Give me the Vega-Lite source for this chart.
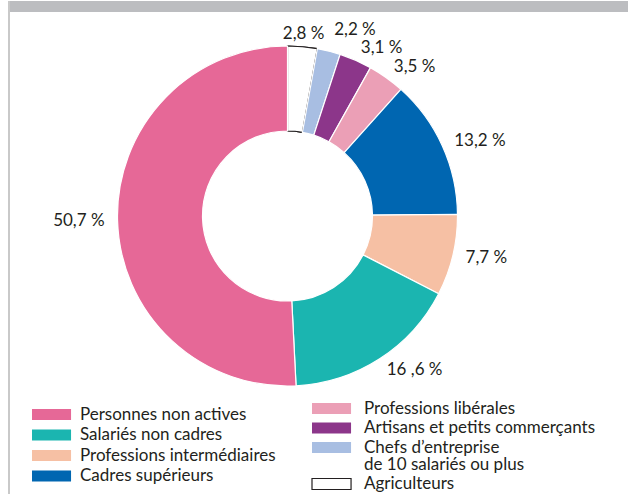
{
  "$schema": "https://vega.github.io/schema/vega-lite/v6.json",
  "padding": {"left": 8, "top": 0, "right": 0, "bottom": 0},
  "background": "white",
  "spacing": 0,
  "config": {"view": {"stroke": null}, "concat": {"spacing": 0}, "font": "Lato"},
  "hconcat": [
    {
      "width": 2, "height": 494,
      "view": {"fill": "#c9c9c9", "stroke": null},
      "data": {"values": [{}]},
      "mark": {"type": "text"},
      "encoding": {"text": {"value": ""}}
    },
    {
      "spacing": 0,
      "vconcat": [
        {
          "width": 618, "height": 11,
          "view": {"fill": "#bcbdc0", "stroke": null},
          "data": {"values": [{}]},
          "mark": {"type": "text"},
          "encoding": {"text": {"value": ""}}
        },
        {
          "width": 555, "height": 408,
          "view": {"stroke": null},
          "data": {"values": [
            {"cat": "Agriculteurs", "pct": 2.8, "label": "2,8 %"},
            {"cat": "Chefs d’entreprise de 10 salariés ou plus", "pct": 2.2, "label": "2,2 %"},
            {"cat": "Artisans et petits commerçants", "pct": 3.1, "label": "3,1 %"},
            {"cat": "Professions libérales", "pct": 3.5, "label": "3,5 %"},
            {"cat": "Cadres supérieurs", "pct": 13.2, "label": "13,2 %"},
            {"cat": "Professions intermédiaires", "pct": 7.7, "label": "7,7 %"},
            {"cat": "Salariés non cadres", "pct": 16.6, "label": "16 ,6 %"},
            {"cat": "Personnes non actives", "pct": 50.7, "label": "50,7 %"}
          ]},
          "transform": [{"window": [{"op": "row_number", "as": "rank"}]}],
          "encoding": {
            "theta": {"field": "pct", "type": "quantitative", "stack": true},
            "order": {"field": "rank", "type": "quantitative"}
          },
          "layer": [
            {
              "mark": {"type": "arc", "radius": 170, "radius2": 85, "strokeWidth": 1.2},
              "encoding": {
                "fill": {
                  "field": "cat", "type": "nominal",
                  "scale": {
                    "domain": ["Personnes non actives", "Salariés non cadres", "Professions intermédiaires", "Cadres supérieurs", "Professions libérales", "Artisans et petits commerçants", "Chefs d’entreprise de 10 salariés ou plus", "Agriculteurs"],
                    "range": ["#e66897", "#1bb5b0", "#f6c0a4", "#0066b1", "#eb9fb6", "#8c368a", "#a8bee2", "#ffffff"]
                  },
                  "legend": {
                    "title": null, "orient": "none", "legendX": 19, "legendY": 394,
                    "values": ["Personnes non actives", "Salariés non cadres", "Professions intermédiaires", "Cadres supérieurs"],
                    "symbolType": "M-1,-1L6.1,-1L6.1,1L-1,1Z", "symbolSize": 121,
                    "symbolStrokeWidth": 0, "symbolOpacity": 1,
                    "labelFont": "Lato", "labelFontSize": 17, "labelColor": "#231f20",
                    "labelOffset": 34, "rowPadding": 2.5, "labelLimit": 400
                  }
                },
                "stroke": {"condition": {"test": "datum.cat === 'Agriculteurs'", "value": "#231f20"}, "value": "white"}
              }
            },
            {
              "mark": {"type": "arc", "radius": 170, "radius2": 85, "strokeWidth": 1.2},
              "encoding": {
                "fill": {
                  "field": "cat", "type": "nominal",
                  "scale": {
                    "domain": ["Personnes non actives", "Salariés non cadres", "Professions intermédiaires", "Cadres supérieurs", "Professions libérales", "Artisans et petits commerçants", "Chefs d’entreprise de 10 salariés ou plus", "Agriculteurs"],
                    "range": ["#e66897", "#1bb5b0", "#f6c0a4", "#0066b1", "#eb9fb6", "#8c368a", "#a8bee2", "#ffffff"]
                  },
                  "legend": {
                    "title": null, "orient": "none", "legendX": 299, "legendY": 388,
                    "values": ["Professions libérales", "Artisans et petits commerçants", "Chefs d’entreprise de 10 salariés ou plus", "Agriculteurs"],
                    "symbolType": "M-1,-1L6.1,-1L6.1,1L-1,1Z", "symbolSize": 121,
                    "symbolOpacity": 1,
                    "symbolStrokeColor": "#231f20", "symbolStrokeWidth": 1.2,
                    "labelFont": "Lato", "labelFontSize": 17, "labelColor": "#231f20",
                    "labelOffset": 38, "rowPadding": 1.5, "labelLimit": 400,
                    "labelExpr": "datum.value == 'Chefs d’entreprise de 10 salariés ou plus' ? ['Chefs d’entreprise', 'de 10 salariés ou plus'] : datum.label",
                    "encode": {
                      "symbols": {"update": {
                        "stroke": {"value": "#231f20"},
                        "strokeWidth": {"signal": "datum.value == 'Agriculteurs' ? 1.2 : 0"}
                      }},
                      "labels": {"update": {"lineHeight": {"value": 17}}}
                    }
                  }
                },
                "stroke": {"condition": {"test": "datum.cat === 'Agriculteurs'", "value": "#231f20"}, "value": "white"}
              }
            },
            {
              "mark": {
                "type": "text", "font": "Lato", "fontSize": 17, "color": "#231f20",
                "radius": {"expr": "datum.cat == 'Chefs d’entreprise de 10 salariés ou plus' ? 192 : 183"},
                "align": {"expr": "datum.cat == 'Personnes non actives' ? 'right' : datum.cat == 'Agriculteurs' ? 'center' : 'left'"}
              },
              "encoding": {"text": {"field": "label", "type": "nominal"}}
            }
          ],
          "resolve": {"legend": {"fill": "independent"}}
        }
      ]
    }
  ]
}
